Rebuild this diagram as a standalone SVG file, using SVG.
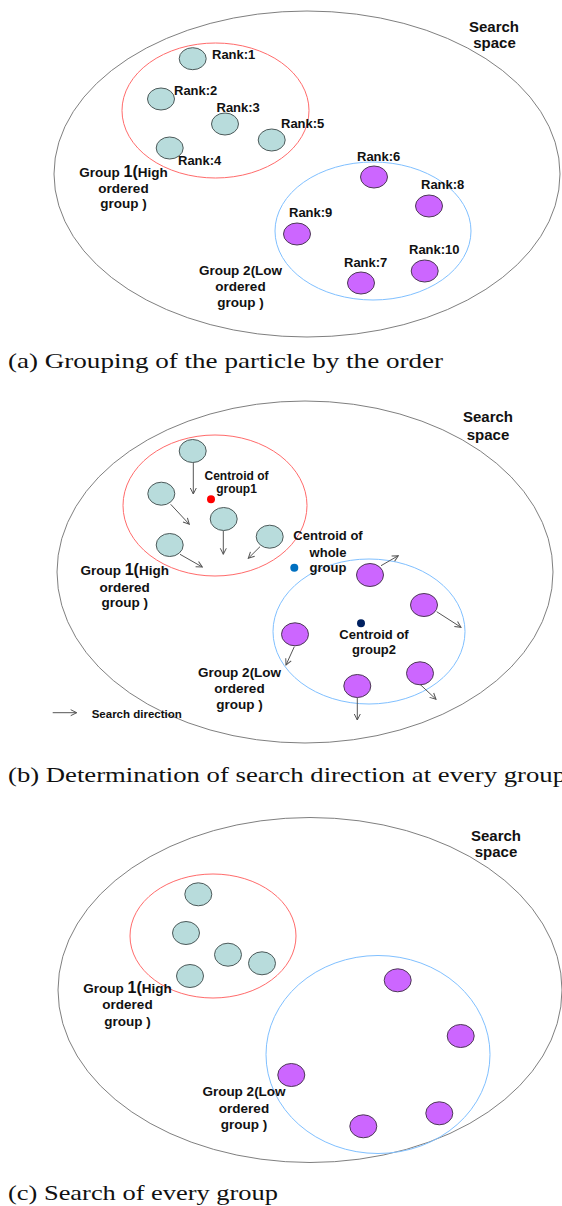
<svg xmlns="http://www.w3.org/2000/svg" width="562" height="1206" viewBox="0 0 562 1206">
<style>
.bg{fill:#ffffff}
.space{fill:none;stroke:#707070;stroke-width:0.9}
.g1{fill:none;stroke:#ff6b6b;stroke-width:1}
.g2{fill:none;stroke:#80c0ff;stroke-width:1}
.pc{fill:#b8dcdc;stroke:#4d5a5a;stroke-width:1}
.pp{fill:#cc66ff;stroke:#4d3a55;stroke-width:1}
.lb{font-family:"Liberation Sans",Arial,sans-serif;font-weight:bold;font-size:13px;fill:#111}
.gl{font-family:"Liberation Sans",Arial,sans-serif;font-weight:bold;font-size:13.5px;fill:#111;text-anchor:middle}
.big{font-size:16px}
.ss{font-family:"Liberation Sans",Arial,sans-serif;font-weight:bold;font-size:15px;fill:#111;text-anchor:middle}
.cap{font-family:"Liberation Serif","Times New Roman",serif;font-size:21.5px;fill:#111}
.arr{fill:none;stroke:#555;stroke-width:1}
</style>
<defs>
<marker id="ah" markerWidth="8" markerHeight="8" refX="7" refY="4" orient="auto" markerUnits="userSpaceOnUse">
<path d="M1,1 L7,4 L1,7" fill="none" stroke="#555" stroke-width="1"/>
</marker>
</defs>
<rect class="bg" x="0" y="0" width="562" height="1206"/>

<!-- Panel (a) -->
<g id="a-space"><ellipse class="space" cx="307" cy="174" rx="253" ry="163"/>
<text class="ss" x="494" y="31.5">Search</text><text class="ss" x="494.5" y="48">space</text></g>
<g id="a-group1"><ellipse class="g1" cx="215.5" cy="110.5" rx="93.5" ry="67.5"/>
<text class="gl" x="123.5" y="177">Group <tspan class="big">1(</tspan>High</text>
<text class="gl" x="123.5" y="192.5">ordered</text>
<text class="gl" x="123.5" y="208">group )</text></g>
<g id="a-group2"><ellipse class="g2" cx="373" cy="231" rx="98" ry="69"/>
<text class="gl" x="240.5" y="275">Group 2(Low</text>
<text class="gl" x="240.5" y="290.5">ordered</text>
<text class="gl" x="240.5" y="306.5">group )</text></g>
<g id="a-r1"><ellipse class="pc" cx="192.7" cy="58.7" rx="13.5" ry="11"/><text class="lb" x="212" y="59">Rank:1</text></g>
<g id="a-r2"><ellipse class="pc" cx="161" cy="99" rx="13.5" ry="11"/><text class="lb" x="174" y="95">Rank:2</text></g>
<g id="a-r3"><ellipse class="pc" cx="225" cy="124" rx="13.5" ry="11"/><text class="lb" x="216.5" y="112">Rank:3</text></g>
<g id="a-r5"><ellipse class="pc" cx="271.7" cy="140" rx="13.5" ry="11"/><text class="lb" x="281" y="128">Rank:5</text></g>
<g id="a-r4"><ellipse class="pc" cx="169.7" cy="148" rx="13.5" ry="11"/><text class="lb" x="178" y="165">Rank:4</text></g>
<g id="a-r6"><ellipse class="pp" cx="374" cy="177" rx="13.5" ry="11"/><text class="lb" x="357" y="161">Rank:6</text></g>
<g id="a-r8"><ellipse class="pp" cx="429" cy="206" rx="13.5" ry="11"/><text class="lb" x="421" y="189">Rank:8</text></g>
<g id="a-r9"><ellipse class="pp" cx="297" cy="234" rx="13.5" ry="11"/><text class="lb" x="289" y="217">Rank:9</text></g>
<g id="a-r10"><ellipse class="pp" cx="424.7" cy="271" rx="13.5" ry="11"/><text class="lb" x="409" y="254">Rank:10</text></g>
<g id="a-r7"><ellipse class="pp" cx="361" cy="283" rx="13.5" ry="11"/><text class="lb" x="344" y="267">Rank:7</text></g>
<text id="cap-a" class="cap" x="8" y="368" textLength="435" lengthAdjust="spacingAndGlyphs">(a) Grouping of the particle by the order</text>

<!-- Panel (b) -->
<g id="b-space"><ellipse class="space" cx="305" cy="572" rx="248" ry="171"/>
<text class="ss" x="488" y="422">Search</text><text class="ss" x="488" y="440">space</text></g>
<g id="b-group1"><ellipse class="g1" cx="215" cy="505.5" rx="92" ry="70.5"/>
<text class="gl" x="124.7" y="575">Group <tspan class="big">1(</tspan>High</text>
<text class="gl" x="124.7" y="591.5">ordered</text>
<text class="gl" x="124.7" y="607">group )</text></g>
<g id="b-group2"><ellipse class="g2" cx="369" cy="631.5" rx="96" ry="72.5"/>
<text class="gl" x="239.5" y="677">Group 2(Low</text>
<text class="gl" x="239.5" y="693.3">ordered</text>
<text class="gl" x="239.5" y="709">group )</text></g>
<g id="b-p1"><ellipse class="pc" cx="192.7" cy="451" rx="13.5" ry="11.5"/></g>
<g id="b-p2"><ellipse class="pc" cx="161.3" cy="493.7" rx="13.5" ry="11.5"/></g>
<g id="b-p3"><ellipse class="pc" cx="223.7" cy="519" rx="13.5" ry="11.5"/></g>
<g id="b-p4"><ellipse class="pc" cx="269.7" cy="536.7" rx="13.5" ry="11.5"/></g>
<g id="b-p5"><ellipse class="pc" cx="169.7" cy="545" rx="13.5" ry="11.5"/></g>
<g id="b-q1"><ellipse class="pp" cx="370" cy="575" rx="13.5" ry="11.5"/></g>
<g id="b-q2"><ellipse class="pp" cx="424" cy="605" rx="13.5" ry="11.5"/></g>
<g id="b-q3"><ellipse class="pp" cx="295" cy="634.3" rx="13.5" ry="11.5"/></g>
<g id="b-q4"><ellipse class="pp" cx="420" cy="673.3" rx="13.5" ry="11.5"/></g>
<g id="b-q5"><ellipse class="pp" cx="357.3" cy="686" rx="13.5" ry="11.5"/></g>
<g id="b-c1"><circle cx="211" cy="499.3" r="4" fill="#ff0000"/>
<text class="lb" style="font-size:12px;text-anchor:middle" x="236.5" y="479.5">Centroid of</text>
<text class="lb" style="font-size:12px;text-anchor:middle" x="236.5" y="493">group1</text></g>
<g id="b-cw"><circle cx="294.3" cy="567.7" r="4" fill="#0070c0"/>
<text class="lb" style="text-anchor:middle" x="328" y="540">Centroid of</text>
<text class="lb" style="text-anchor:middle" x="328" y="556.5">whole</text>
<text class="lb" style="text-anchor:middle" x="328" y="572">group</text></g>
<g id="b-c2"><circle cx="361" cy="623.3" r="4" fill="#002060"/>
<text class="lb" style="text-anchor:middle" x="374" y="639">Centroid of</text>
<text class="lb" style="text-anchor:middle" x="374" y="654">group2</text></g>
<g id="b-legend"><text class="lb" style="font-size:11.5px" x="91.7" y="717.5">Search direction</text></g>
<g id="connectors">
<line class="arr" x1="193.3" y1="462.7" x2="193.3" y2="494" marker-end="url(#ah)"/>
<line class="arr" x1="170.7" y1="504.3" x2="189.3" y2="524.3" marker-end="url(#ah)"/>
<line class="arr" x1="223.3" y1="531" x2="223.3" y2="554.3" marker-end="url(#ah)"/>
<line class="arr" x1="260" y1="546.7" x2="248.3" y2="558.3" marker-end="url(#ah)"/>
<line class="arr" x1="180" y1="554.3" x2="202.3" y2="567" marker-end="url(#ah)"/>
<line class="arr" x1="381" y1="565.7" x2="398.3" y2="555.7" marker-end="url(#ah)"/>
<line class="arr" x1="436.7" y1="611.7" x2="461" y2="627.3" marker-end="url(#ah)"/>
<line class="arr" x1="294.3" y1="646.7" x2="286" y2="665" marker-end="url(#ah)"/>
<line class="arr" x1="420" y1="684.3" x2="436" y2="699.3" marker-end="url(#ah)"/>
<line class="arr" x1="357.3" y1="697.7" x2="357.3" y2="720" marker-end="url(#ah)"/>
<line class="arr" x1="52.7" y1="712.7" x2="76.7" y2="712.7" marker-end="url(#ah)"/>
</g>
<text id="cap-b" class="cap" x="8" y="781.5" textLength="558" lengthAdjust="spacingAndGlyphs">(b) Determination of search direction at every group</text>

<!-- Panel (c) -->
<g id="c-space"><ellipse class="space" cx="310" cy="990" rx="252" ry="172.5"/>
<text class="ss" x="496" y="840.7">Search</text><text class="ss" x="496" y="857">space</text></g>
<g id="c-group1"><ellipse class="g1" cx="213" cy="936" rx="83" ry="62"/>
<text class="gl" x="127.5" y="993.3">Group <tspan class="big">1(</tspan>High</text>
<text class="gl" x="127.5" y="1009.3">ordered</text>
<text class="gl" x="127.5" y="1025.5">group )</text></g>
<g id="c-group2"><ellipse class="g2" cx="378" cy="1054.5" rx="112" ry="99"/>
<text class="gl" x="244" y="1096">Group 2(Low</text>
<text class="gl" x="244" y="1112.7">ordered</text>
<text class="gl" x="244" y="1128.5">group )</text></g>
<g id="c-p1"><ellipse class="pc" cx="198.3" cy="894.3" rx="13.5" ry="11.5"/></g>
<g id="c-p2"><ellipse class="pc" cx="186" cy="933" rx="13.5" ry="11.5"/></g>
<g id="c-p3"><ellipse class="pc" cx="228" cy="954.7" rx="13.5" ry="11.5"/></g>
<g id="c-p4"><ellipse class="pc" cx="262" cy="963.3" rx="13.5" ry="11.5"/></g>
<g id="c-p5"><ellipse class="pc" cx="190" cy="976" rx="13.5" ry="11.5"/></g>
<g id="c-q1"><ellipse class="pp" cx="397.7" cy="980.3" rx="13.5" ry="11.5"/></g>
<g id="c-q2"><ellipse class="pp" cx="460.7" cy="1036" rx="13.5" ry="11.5"/></g>
<g id="c-q3"><ellipse class="pp" cx="291.3" cy="1075" rx="13.5" ry="11.5"/></g>
<g id="c-q4"><ellipse class="pp" cx="439.3" cy="1113.3" rx="13.5" ry="11.5"/></g>
<g id="c-q5"><ellipse class="pp" cx="363.3" cy="1126.3" rx="13.5" ry="11.5"/></g>
<text id="cap-c" class="cap" x="8" y="1200" textLength="270" lengthAdjust="spacingAndGlyphs">(c) Search of every group</text>
</svg>
